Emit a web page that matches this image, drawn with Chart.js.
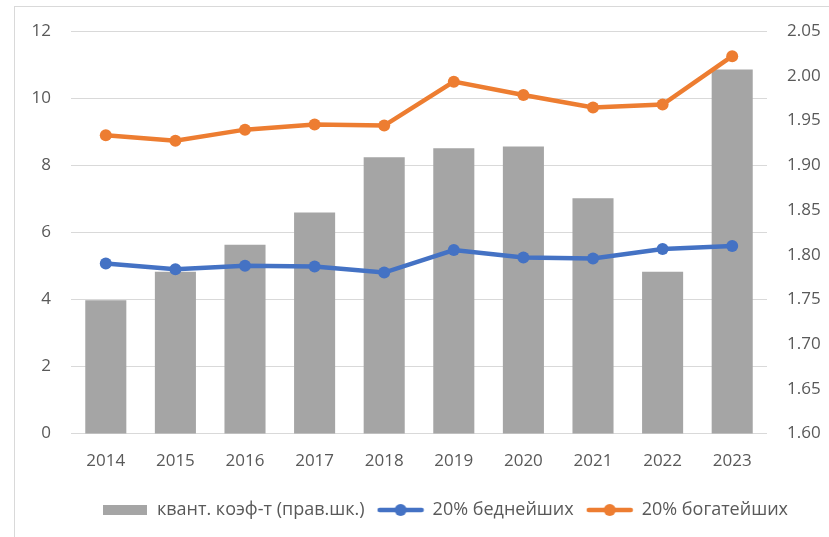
<!DOCTYPE html>
<html>
<head>
<meta charset="utf-8">
<script src="https://cdn.jsdelivr.net/npm/chart.js@4"></script>
<style>
    html, body { margin: 0; padding: 0; background: #fff; overflow: hidden; }
    #frame {
        position: absolute;
        left: 14px;
        top: 6px;
        width: 862px;
        height: 560px;
        border: 1px solid #d9d9d9;
        box-sizing: border-box;
    }
    #chart-box { position: absolute; left: 0; top: 0; width: 860px; height: 531px; }
</style>
</head>
<body>
<div id="frame">
    <div id="chart-box"><canvas id="chart"></canvas></div>
</div>
<script>
// Data
const years = ['2014', '2015', '2016', '2017', '2018', '2019', '2020', '2021', '2022', '2023'];
const quantRatio = [1.749, 1.781, 1.811, 1.847, 1.909, 1.919, 1.921, 1.863, 1.781, 2.007];
const poorest = [5.07, 4.90, 5.00, 4.98, 4.80, 5.47, 5.25, 5.22, 5.50, 5.59];
const richest = [8.89, 8.73, 9.06, 9.21, 9.18, 10.49, 10.09, 9.72, 9.81, 11.25];

const leftTicks = [0, 2, 4, 6, 8, 10, 12];
const rightTicks = [1.60, 1.65, 1.70, 1.75, 1.80, 1.85, 1.90, 1.95, 2.00, 2.05];

const seriesNames = ['квант. коэф-т (прав.шк.)', '20% беднейших', '20% богатейших'];

// Colors
const gray = '#a5a5a5';
const blue = '#4472c4';
const orange = '#ed7d31';
const textColor = '#595959';
const gridColor = '#d9d9d9';

// Legend swatches
function barSwatch(color) {
    const c = document.createElement('canvas');
    c.width = 44; c.height = 10;
    const ctx = c.getContext('2d');
    ctx.fillStyle = color;
    ctx.fillRect(0, 0, 44, 10);
    return c;
}

function lineSwatch(color) {
    const c = document.createElement('canvas');
    c.width = 48; c.height = 14;
    const ctx = c.getContext('2d');
    ctx.strokeStyle = color;
    ctx.lineWidth = 4.5;
    ctx.lineCap = 'round';
    ctx.beginPath();
    ctx.moveTo(3, 7);
    ctx.lineTo(45, 7);
    ctx.stroke();
    ctx.fillStyle = color;
    ctx.beginPath();
    ctx.arc(24, 7, 6, 0, Math.PI * 2);
    ctx.fill();
    return c;
}

const swatches = [barSwatch(gray), lineSwatch(blue), lineSwatch(orange)];

// fixed axis widths, no extra half-label padding
function fitAxis(width) {
    return axis => {
        axis.width = width;
        axis.paddingTop = 0;
        axis.paddingBottom = 0;
    };
}

Chart.defaults.font.family = '"Open Sans", sans-serif';
Chart.defaults.font.size = 17;
Chart.defaults.color = textColor;

new Chart(document.getElementById('chart'), {
    type: 'bar',
    data: {
        labels: years,
        datasets: [
            {
                type: 'bar',
                label: seriesNames[0],
                data: quantRatio,
                backgroundColor: gray,
                yAxisID: 'y2',
                barPercentage: 0.59,
                categoryPercentage: 1.0,
                order: 3
            },
            {
                type: 'line',
                label: seriesNames[1],
                data: poorest,
                borderColor: blue,
                backgroundColor: blue,
                borderWidth: 4.5,
                pointRadius: 6,
                pointHoverRadius: 6,
                pointBorderWidth: 0,
                tension: 0,
                yAxisID: 'y',
                order: 1
            },
            {
                type: 'line',
                label: seriesNames[2],
                data: richest,
                borderColor: orange,
                backgroundColor: orange,
                borderWidth: 4.5,
                pointRadius: 6,
                pointHoverRadius: 6,
                pointBorderWidth: 0,
                tension: 0,
                yAxisID: 'y',
                order: 2
            }
        ]
    },
    options: {
        responsive: true,
        maintainAspectRatio: false,
        animation: false,
        layout: {
            padding: { left: 0, right: 0, top: 24, bottom: 9 }
        },
        scales: {
            x: {
                grid: { display: false, drawTicks: false },
                border: { display: false },
                ticks: { padding: 17, color: textColor }
            },
            y: {
                position: 'left',
                min: 0,
                max: 12,
                afterBuildTicks: axis => { axis.ticks = leftTicks.map(v => ({ value: v })); },
                afterFit: fitAxis(56),
                grid: { color: gridColor, lineWidth: 1, drawTicks: false },
                border: { display: false },
                ticks: { padding: 20, color: textColor }
            },
            y2: {
                position: 'right',
                min: 1.6,
                max: 2.05,
                afterBuildTicks: axis => { axis.ticks = rightTicks.map(v => ({ value: v })); },
                afterFit: fitAxis(108),
                grid: { display: false, drawTicks: false },
                border: { display: false },
                ticks: {
                    padding: 20,
                    color: textColor,
                    callback: value => Number(value).toFixed(2)
                }
            }
        },
        plugins: {
            tooltip: { enabled: false },
            legend: {
                position: 'bottom',
                labels: {
                    usePointStyle: true,
                    pointStyleWidth: 46,
                    padding: 13,
                    color: textColor,
                    font: { size: 18 },
                    generateLabels: () => seriesNames.map((name, i) => ({
                        text: name,
                        pointStyle: swatches[i],
                        fillStyle: 'transparent',
                        strokeStyle: 'transparent',
                        lineWidth: 0,
                        hidden: false,
                        datasetIndex: i,
                        fontColor: textColor
                    }))
                }
            }
        }
    }
});
</script>
</body>
</html>
